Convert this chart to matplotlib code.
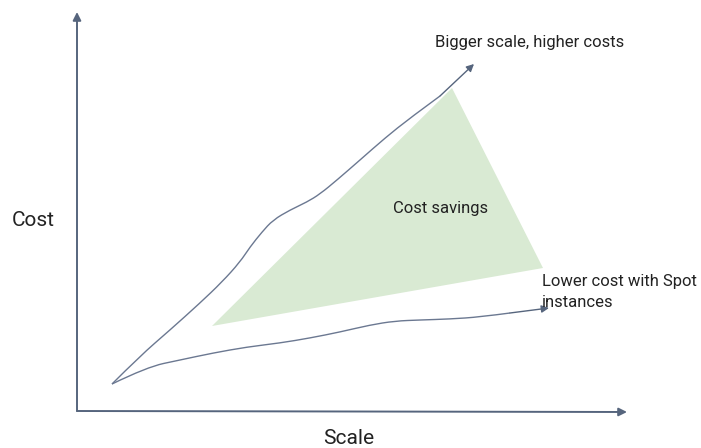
import matplotlib.pyplot as plt
from matplotlib.patches import Polygon, PathPatch
from matplotlib.path import Path

plt.rcParams['font.family'] = ['Roboto', 'DejaVu Sans']

# Diagram coordinates (canvas units, y grows downward)
origin = (77, 411)
y_axis_tip = (77, 12)
x_axis_tip = (627, 412)

# Regular instances: bigger scale, higher costs
high_x = [112, 140, 170, 200, 222, 240, 250, 262, 273, 290, 307, 320, 337, 360, 385, 410, 440, 474]
high_y = [384, 356, 330, 303, 282, 262, 247, 232, 220, 210, 202, 194, 180, 160, 138, 118, 96, 64]

# Spot instances: lower cost
low_x = [112, 147, 180, 213, 247, 280, 310, 340, 370, 395, 420, 450, 480, 510, 549]
low_y = [384, 367, 360, 353, 347, 343, 338, 332, 325, 321, 320, 319, 317, 313, 308]

# Savings area
savings_x = [212, 452, 543]
savings_y = [326, 88, 268]

axis_col = '#56657d'
line_col = '#6b7891'
text_col = '#222222'


def smooth_path(xs, ys):
    # quadratic bezier through midpoints, using the points as control points
    pts = list(zip(xs, ys))
    verts = [pts[0]]
    codes = [Path.MOVETO]
    for i in range(1, len(pts) - 1):
        mid = ((pts[i][0] + pts[i + 1][0]) / 2, (pts[i][1] + pts[i + 1][1]) / 2)
        if i == len(pts) - 2:
            mid = pts[-1]
        verts += [pts[i], mid]
        codes += [Path.CURVE3, Path.CURVE3]
    return Path(verts, codes)


fig = plt.figure(figsize=(7.01, 4.48), dpi=100)
ax = fig.add_axes([0, 0, 1, 1])
ax.set_xlim(0, 701)
ax.set_ylim(448, 0)
ax.axis('off')

ax.add_patch(Polygon(list(zip(savings_x, savings_y)), closed=True,
                     facecolor='#d9ead3', edgecolor='none', zorder=1))

# axes arrows
for tip in (y_axis_tip, x_axis_tip):
    ax.annotate('', xy=tip, xytext=origin,
                arrowprops=dict(arrowstyle='-|>', color=axis_col, lw=1.4,
                                mutation_scale=12, shrinkA=0, shrinkB=0))

# curves with arrow heads
for xs, ys in ((high_x, high_y), (low_x, low_y)):
    ax.add_patch(PathPatch(smooth_path(xs[:-1], ys[:-1]), facecolor='none',
                           edgecolor=line_col, lw=1.0, zorder=2))
    ax.annotate('', xy=(xs[-1], ys[-1]), xytext=(xs[-2], ys[-2]),
                arrowprops=dict(arrowstyle='-|>', color=axis_col, lw=1.0,
                                mutation_scale=11, shrinkA=0, shrinkB=0))

ax.text(33, 220, 'Cost', fontsize=15, color=text_col, ha='center', va='center')
ax.text(349, 438, 'Scale', fontsize=15, color=text_col, ha='center', va='center')
ax.text(435, 43, 'Bigger scale, higher costs', fontsize=12, color=text_col,
        ha='left', va='center')
ax.text(393, 209, 'Cost savings', fontsize=12, color=text_col, ha='left', va='center')
ax.text(542, 292, 'Lower cost with Spot\ninstances', fontsize=12, color=text_col,
        ha='left', va='center', linespacing=1.45)

fig.savefig('out.png', dpi=100)
